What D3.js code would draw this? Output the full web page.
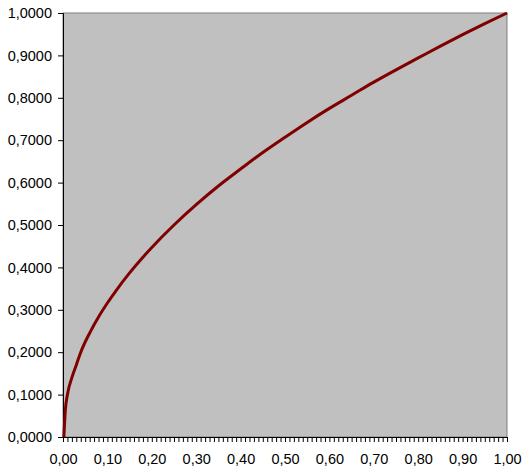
<!DOCTYPE html>
<html>
<head>
<meta charset="utf-8">
<script src="https://cdn.jsdelivr.net/npm/d3@7"></script>
<style>
  body { margin: 0; background: #fff; }
  text { font-family: "Liberation Sans", Arial, sans-serif; }
</style>
</head>
<body>
<div id="chart"></div>
<script>
// values
const xValues = [0.002, 0.005, 0.01, 0.02, 0.03, 0.04, 0.06, 0.08, 0.10, 0.12, 0.15, 0.18, 0.20, 0.25, 0.30, 0.35, 0.40, 0.45, 0.50, 0.55, 0.60, 0.65, 0.70, 0.75, 0.80, 0.85, 0.90, 0.95, 1.00];
const yValues = [0, 0.06, 0.10, 0.14, 0.17, 0.20, 0.245, 0.283, 0.316, 0.346, 0.387, 0.424, 0.447, 0.50, 0.548, 0.592, 0.632, 0.671, 0.707, 0.742, 0.775, 0.806, 0.837, 0.866, 0.894, 0.922, 0.949, 0.975, 1.00];
const yTicks = [0, 0.1, 0.2, 0.3, 0.4, 0.5, 0.6, 0.7, 0.8, 0.9, 1.0];
const xLabelTicks = [0, 0.1, 0.2, 0.3, 0.4, 0.5, 0.6, 0.7, 0.8, 0.9, 1.0];

const svgWidth = 523;
const svgHeight = 470;
const margin = { top: 13, bottom: 33, right: 16, left: 63 };
const width = svgWidth - margin.left - margin.right;
const height = svgHeight - margin.top - margin.bottom;

const locale = d3.formatLocale({ decimal: ",", thousands: ".", grouping: [3], currency: ["", ""] });
const fmtY = locale.format(".4f");
const fmtX = locale.format(".2f");

const XScale = d3.scaleLinear([0, 1], [0, width]);
const YScale = d3.scaleLinear([0, 1], [height, 0]);

const svg = d3.select("#chart")
  .append("svg")
  .attr("width", svgWidth)
  .attr("height", svgHeight)
  .append("g")
  .attr("transform", `translate(${margin.left},${margin.top})`);

// plot area
svg.append("rect")
  .attr("x", 0).attr("y", 0)
  .attr("width", width).attr("height", height)
  .attr("fill", "#c0c0c0")
  .attr("stroke", "#808080")
  .attr("stroke-width", 1);

// y axis
const yAxis = svg.append("g")
  .call(d3.axisLeft(YScale).tickValues(yTicks).tickFormat(fmtY).tickSize(5).tickPadding(6));
yAxis.select(".domain").attr("stroke", "#000");
yAxis.selectAll("text").style("font-size", "14.5px").style("fill", "#000");

// x axis: minor ticks every 0.01
const minor = d3.range(0, 101).map(i => i / 100);
const xAxis = svg.append("g")
  .attr("transform", `translate(0,${height})`)
  .call(d3.axisBottom(XScale).tickValues(minor).tickSize(5).tickFormat(""));
xAxis.select(".domain").attr("stroke", "#000");

const xLab = svg.append("g")
  .attr("transform", `translate(0,${height})`)
  .call(d3.axisBottom(XScale).tickValues(xLabelTicks).tickFormat(fmtX).tickSize(0).tickPadding(17));
xLab.select(".domain").remove();
xLab.selectAll("text").style("font-size", "14.5px").style("fill", "#000");

// curve
const pts = xValues.map((x, i) => [x, yValues[i]]);
svg.append("path")
  .datum(pts)
  .attr("fill", "none")
  .attr("stroke", "#800000")
  .attr("stroke-width", 3)
  .attr("d", d3.line().x(d => XScale(d[0])).y(d => YScale(d[1])).curve(d3.curveMonotoneX));
</script>
</body>
</html>
